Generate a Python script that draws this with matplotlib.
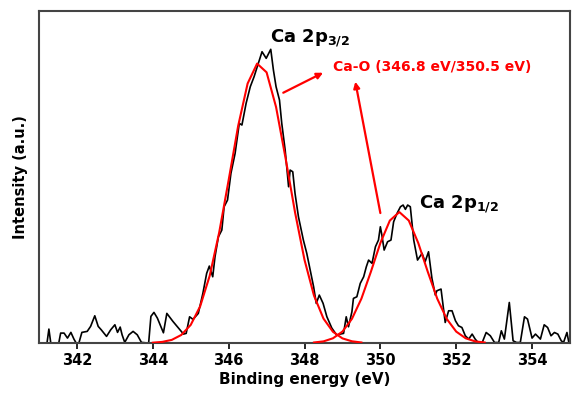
import matplotlib
matplotlib.use("Agg")
import matplotlib.pyplot as plt

# measured spectrum (binding energy in eV, intensity in a.u.)
energy = [341.00, 341.21, 341.26, 341.31, 341.52, 341.57, 341.66, 341.75, 341.84, 341.92,
          341.98, 342.05, 342.13, 342.27, 342.36, 342.47, 342.56, 342.64, 342.78, 342.89,
          343.00, 343.07, 343.14, 343.19, 343.26, 343.37, 343.48, 343.59, 343.70, 343.89,
          343.95, 344.03, 344.12, 344.28, 344.37, 344.53, 344.81, 344.88, 344.97, 345.06,
          345.20, 345.32, 345.42, 345.49, 345.58, 345.64, 345.73, 345.82, 345.88, 345.97,
          346.06, 346.17, 346.28, 346.35, 346.46, 346.57, 346.67, 346.81, 346.88, 346.99,
          347.11, 347.18, 347.25, 347.34, 347.40, 347.49, 347.58, 347.62, 347.69, 347.75,
          347.84, 347.97, 348.06, 348.15, 348.24, 348.31, 348.39, 348.49, 348.59, 348.72,
          348.85, 348.94, 349.03, 349.10, 349.16, 349.25, 349.29, 349.38, 349.47, 349.56,
          349.63, 349.69, 349.78, 349.87, 349.95, 350.00, 350.04, 350.10, 350.19, 350.28,
          350.35, 350.44, 350.53, 350.60, 350.66, 350.72, 350.79, 350.88, 350.98, 351.10,
          351.18, 351.27, 351.36, 351.45, 351.49, 351.60, 351.71, 351.80, 351.89, 351.98,
          352.06, 352.15, 352.24, 352.33, 352.42, 352.50, 352.59, 352.68, 352.79, 352.90,
          353.01, 353.12, 353.19, 353.27, 353.40, 353.50, 353.59, 353.69, 353.80, 353.88,
          354.00, 354.09, 354.22, 354.32, 354.41, 354.50, 354.59, 354.68, 354.77, 354.83,
          354.92, 354.97, 355.01]
intensity = [0, 0, 14, 0, 0, 10, 10, 5, 10.7, 4,
             0, 0, 10.7, 11.7, 16.7, 27.3, 16.7, 13.3, 6.7, 13.3,
             18.3, 10.7, 16, 8.3, 0.7, 8.3, 11.7, 8.3, 0.7, 0,
             26.7, 30.7, 25, 10.3, 29.7, 21.7, 9, 9.7, 26.3, 23.7,
             29.7, 49.7, 69.7, 77, 66.3, 86.3, 106.3, 113, 136.3, 143,
             169.7, 189.7, 219.7, 218, 239.7, 256.3, 266.3, 283, 291.3, 284.7,
             293.7, 273, 256.3, 243, 219.7, 193, 156.3, 173, 171.3, 149.7,
             126.3, 103, 89.7, 73, 56.3, 39.7, 48, 39.7, 26.3, 15,
             8, 9, 9.7, 26.3, 16.3, 31.3, 44.7, 46.3, 59.7, 66.3,
             76.3, 83, 79.7, 96.3, 103, 116.3, 108, 93, 101.3, 103,
             121.3, 129.7, 136.3, 138, 133.7, 138, 136.3, 103, 83, 89.7,
             81.3, 91.3, 64.7, 48, 52.3, 54, 20.6, 32.3, 32.3, 22.3,
             17.3, 15.6, 7.3, 4, 9, 4, 0, 0, 10.6, 7.3,
             0.6, 0.6, 12.3, 4, 40.6, 2.3, 0.6, 0.6, 26.3, 24,
             5, 9, 4, 18.3, 15.6, 7.3, 10.6, 9, 2.3, 0.6,
             10.6, 0.6, 0]

# fitted components
fit1_energy = [344.00, 344.25, 344.50, 344.75, 345.00, 345.25, 345.50, 345.75, 346.00,
               346.25, 346.50, 346.75, 347.00, 347.25, 347.50, 347.75, 348.00, 348.25,
               348.50, 348.75, 349.00, 349.25, 349.50]
fit1_intensity = [0.4, 1.2, 3.2, 8.1, 18.2, 36.9, 67.3, 110.5, 163,
                  217, 259.5, 279.4, 270.7, 236, 185, 130.8, 83.2, 47.5,
                  24.5, 11.3, 4.7, 1.8, 0.6]
fit2_energy = [348.25, 348.50, 348.75, 349.00, 349.25, 349.50, 349.75, 350.00, 350.25,
               350.50, 350.75, 351.00, 351.25, 351.50, 351.75, 352.00, 352.25, 352.50,
               352.75]
fit2_intensity = [0.6, 1.7, 4.8, 11.5, 24.2, 44.4, 71.3, 100, 122.5,
                  131, 122.5, 100, 71.3, 44.4, 24.2, 11.5, 4.8, 1.7,
                  0.6]

xticks = [342, 344, 346, 348, 350, 352, 354]

fig = plt.figure(figsize=(5.74, 3.93), dpi=100)
ax = fig.add_axes([0.068, 0.127, 0.925, 0.845])

ax.plot(energy, intensity, color="black", linewidth=1.2, zorder=2)
ax.plot(fit1_energy, fit1_intensity, color="red", linewidth=1.5, zorder=3)
ax.plot(fit2_energy, fit2_intensity, color="red", linewidth=1.5, zorder=3)

ax.set_xlim(341, 355)
ax.set_ylim(0, 332)
ax.set_xticks(xticks)
ax.set_yticks([])
ax.tick_params(axis="x", direction="out", length=4, width=1.2, labelsize=10.5, pad=3)
for lab in ax.get_xticklabels():
    lab.set_fontweight("bold")
for sp in ax.spines.values():
    sp.set_color("#444444")
    sp.set_linewidth(1.5)

ax.set_xlabel("Binding energy (eV)", fontsize=11, fontweight="bold", labelpad=3)
ax.set_ylabel("Intensity (a.u.)", fontsize=10.5, fontweight="bold", labelpad=8)

# peak labels
ax.text(347.10, 301, r"Ca 2p$_{\mathbf{3/2}}$", fontsize=13, fontweight="bold",
        ha="left", va="baseline")
ax.text(351.03, 135, r"Ca 2p$_{\mathbf{1/2}}$", fontsize=13, fontweight="bold",
        ha="left", va="baseline")
ax.text(348.75, 276, "Ca-O (346.8 eV/350.5 eV)", fontsize=10, fontweight="bold",
        color="red", ha="left", va="center")

arrow = dict(arrowstyle="-|>", color="red", lw=1.6, mutation_scale=9,
             shrinkA=0, shrinkB=0)
ax.annotate("", xy=(348.49, 270.3), xytext=(347.44, 250.3), arrowprops=arrow)
ax.annotate("", xy=(349.34, 261.3), xytext=(350.00, 130), arrowprops=arrow)

fig.savefig("out.png", dpi=100)
